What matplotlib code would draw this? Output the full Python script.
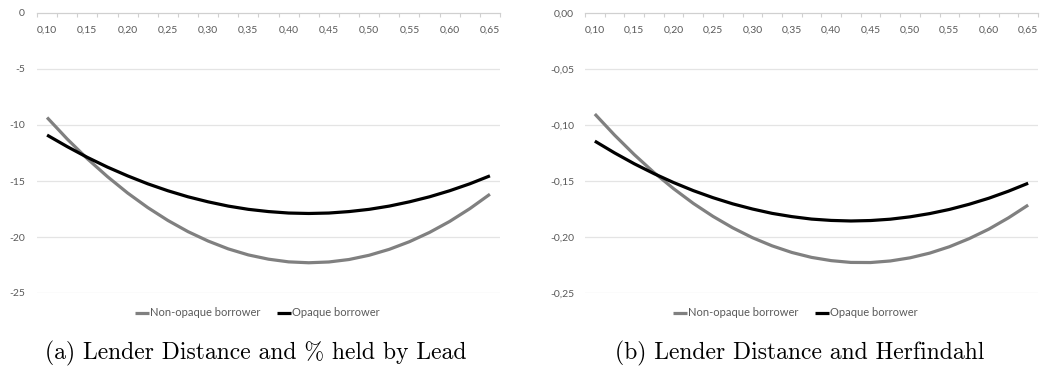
import matplotlib
matplotlib.use("Agg")
import matplotlib.pyplot as plt
from matplotlib.ticker import FixedLocator

# ---- data ----
x_vals = [0.100, 0.125, 0.150, 0.175, 0.200, 0.225, 0.250, 0.275, 0.300, 0.325, 0.350, 0.375,
          0.400, 0.425, 0.450, 0.475, 0.500, 0.525, 0.550, 0.575, 0.600, 0.625, 0.650]

a_nonopaque = [-9.33, -11.25, -13.01, -14.61, -16.07, -17.37, -18.52, -19.52, -20.36, -21.06, -21.60, -21.98,
               -22.22, -22.30, -22.23, -22.01, -21.63, -21.10, -20.42, -19.59, -18.61, -17.47, -16.18]
a_opaque = [-10.90, -11.93, -12.89, -13.76, -14.54, -15.25, -15.87, -16.41, -16.86, -17.24, -17.53, -17.73,
            -17.86, -17.90, -17.86, -17.73, -17.53, -17.24, -16.86, -16.41, -15.87, -15.25, -14.54]

b_nonopaque = [-0.0902, -0.1090, -0.1264, -0.1424, -0.1569, -0.1700, -0.1816, -0.1918, -0.2006, -0.2079,
               -0.2138, -0.2182, -0.2211, -0.2227, -0.2228, -0.2214, -0.2186, -0.2144, -0.2087, -0.2015,
               -0.1930, -0.1829, -0.1715]
b_opaque = [-0.1144, -0.1249, -0.1346, -0.1434, -0.1514, -0.1586, -0.1649, -0.1704, -0.1750, -0.1789,
            -0.1818, -0.1840, -0.1852, -0.1857, -0.1853, -0.1841, -0.1820, -0.1791, -0.1754, -0.1708,
            -0.1654, -0.1591, -0.1520]

x_label_pos = [0.10, 0.15, 0.20, 0.25, 0.30, 0.35, 0.40, 0.45, 0.50, 0.55, 0.60, 0.65]
x_labels = ["0,10", "0,15", "0,20", "0,25", "0,30", "0,35", "0,40", "0,45", "0,50", "0,55", "0,60", "0,65"]

a_yticks = [0, -5, -10, -15, -20, -25]
a_ylabels = ["0", "-5", "-10", "-15", "-20", "-25"]
b_yticks = [0.0, -0.05, -0.10, -0.15, -0.20, -0.25]
b_ylabels = ["0,00", "-0,05", "-0,10", "-0,15", "-0,20", "-0,25"]

series_names = ["Non-opaque borrower", "Opaque borrower"]
captions = ["(a) Lender Distance and % held by Lead", "(b) Lender Distance and Herfindahl"]

# ---- style ----
W, H = 1042, 381
fig = plt.figure(figsize=(W / 100, H / 100), dpi=100)
TXT = "#595959"
GRID = "#e4e4e4"
GRAY = "#808080"
TFONT = ["Lato", "DejaVu Sans"]

def px_axes(x0, x1, y0, y1):
    return fig.add_axes([x0 / W, 1 - y1 / H, (x1 - x0) / W, (y1 - y0) / H])

def setup(ax, yticks, ylabels, ymin, ylab_pad):
    ax.set_xlim(0.0875, 0.6625)
    ax.set_ylim(ymin, 0)
    for s in ["left", "right", "top"]:
        ax.spines[s].set_visible(False)
    ax.spines["bottom"].set_position(("data", 0))
    ax.spines["bottom"].set_color("#d0d0d0")
    ax.spines["bottom"].set_linewidth(0.9)
    ax.xaxis.set_major_locator(FixedLocator(x_label_pos))
    ax.set_xticklabels(x_labels)
    minor = [0.0875 + 0.025 * k for k in range(24)]
    ax.xaxis.set_minor_locator(FixedLocator(minor))
    ax.tick_params(axis="x", which="major", length=0, pad=9, labelsize=7.5, labelcolor=TXT)
    ax.tick_params(axis="x", which="minor", length=3, width=0.8, color="#d0d0d0", direction="out")
    ax.set_yticks(yticks)
    ax.set_yticklabels(ylabels)
    ax.tick_params(axis="y", length=0, pad=ylab_pad, labelsize=7.5, labelcolor=TXT)
    for lab in ax.get_xticklabels() + ax.get_yticklabels():
        lab.set_family(TFONT)
    for yv in yticks[1:]:
        ax.axhline(yv, color=GRID, lw=0.9, zorder=0)
    ax.set_facecolor("none")

axL = px_axes(37, 500, 13, 293)
setup(axL, a_yticks, a_ylabels, -25, 8.6)
l1, = axL.plot(x_vals, a_nonopaque, color=GRAY, lw=2.3, solid_capstyle="butt", label=series_names[0])
l2, = axL.plot(x_vals, a_opaque, color="black", lw=2.3, solid_capstyle="butt", label=series_names[1])

axR = px_axes(585, 1038, 13, 293)
setup(axR, b_yticks, b_ylabels, -0.25, 7.9)
axR.plot(x_vals, b_nonopaque, color=GRAY, lw=2.3, solid_capstyle="butt", label=series_names[0])
axR.plot(x_vals, b_opaque, color="black", lw=2.3, solid_capstyle="butt", label=series_names[1])

for cx in (257, 795):
    leg = fig.legend(handles=[l1, l2], labels=series_names, loc="center",
                     bbox_to_anchor=(cx / W, 1 - 313 / H), ncol=2, frameon=False,
                     handlelength=1.3, handletextpad=0.05, columnspacing=1.5,
                     prop={"family": TFONT, "size": 8})
    for t in leg.get_texts():
        t.set_color(TXT)

for cx, cap in zip((256, 800), captions):
    fig.text(cx / W, 1 - 353 / H, cap, ha="center", va="center",
             family=["cmr10", "DejaVu Serif"], fontsize=17, color="black")

fig.savefig("out.png", dpi=100)
